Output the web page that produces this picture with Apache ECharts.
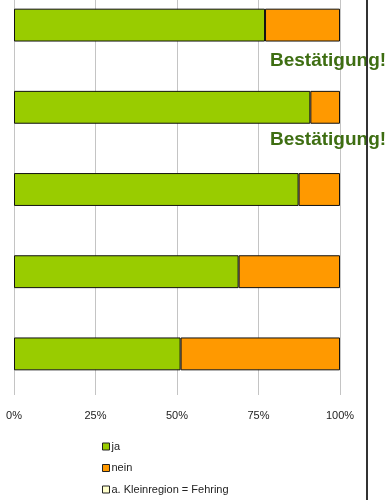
<!DOCTYPE html>
<html>
<head>
<meta charset="utf-8">
<script src="https://cdn.jsdelivr.net/npm/echarts@6/dist/echarts.min.js"></script>
<style>html,body{margin:0;padding:0;background:#fff}#c{width:388px;height:500px}</style>
</head>
<body>
<div id="c"></div>
<script>
const categories = ["1", "2", "3", "4", "5"];
const jaValues = [77.0, 90.9, 87.3, 68.9, 51.1];
const neinValues = [23.0, 9.1, 12.7, 31.1, 48.9];
const fehringValues = [];
const seriesNames = ["ja", "nein", "a. Kleinregion = Fehring"];
const xTicks = [0, 25, 50, 75, 100];
const annotation = "Bestätigung!";

const chart = echarts.init(document.getElementById('c'), null, {renderer: 'canvas'});
const font = 'Liberation Sans, Arial, sans-serif';
chart.setOption({
  animation: false,
  backgroundColor: '#fff',
  grid: {left: 14, right: 48, top: -16, height: 411, containLabel: false, outerBoundsMode: 'none'},
  xAxis: {
    type: 'value', min: 0, max: 100, interval: 25,
    axisLine: {show: false}, axisTick: {show: false},
    splitLine: {show: true, lineStyle: {color: '#c4c4c4', width: 1}},
    axisLabel: {formatter: v => xTicks.includes(v) ? v + '%' : '', margin: 15,
      color: '#222', fontSize: 11, fontFamily: font}
  },
  yAxis: {
    type: 'category', data: categories, inverse: true,
    axisLine: {show: false}, axisTick: {show: false}, axisLabel: {show: false},
    splitLine: {show: false}
  },
  legend: {
    orient: 'vertical', left: 102, top: 441, padding: 0, height: 59,
    itemWidth: 7, itemHeight: 7, itemGap: 10.5,
    icon: 'rect',
    textStyle: {fontSize: 11, fontFamily: font, color: '#222', padding: [0,0,0,-3]},
    data: seriesNames.map(n => ({name: n, itemStyle: {borderColor: '#222', borderWidth: 1}}))
  },
  series: [
    {name: seriesNames[0], type: 'bar', stack: 's', data: jaValues, barWidth: '40%',
     itemStyle: {color: '#99cc00', borderColor: '#111', borderWidth: 1}},
    {name: seriesNames[1], type: 'bar', stack: 's', data: neinValues, barWidth: '40%',
     itemStyle: {color: '#ff9900', borderColor: '#111', borderWidth: 1}},
    {name: seriesNames[2], type: 'bar', stack: 's', data: fehringValues, barWidth: '40%',
     itemStyle: {color: '#ffffcc', borderColor: '#111', borderWidth: 1}}
  ],
  graphic: [
    {type: 'text', left: 270, top: 51, z: 10,
     style: {text: annotation, fill: '#3e6e12', font: 'bold 19px ' + font}},
    {type: 'text', left: 270, top: 130, z: 10,
     style: {text: annotation, fill: '#3e6e12', font: 'bold 19px ' + font}},
    {type: 'line', z: 20, shape: {x1: 367, y1: 0, x2: 367, y2: 500},
     style: {stroke: '#333', lineWidth: 2}}
  ]
});
</script>
</body>
</html>
